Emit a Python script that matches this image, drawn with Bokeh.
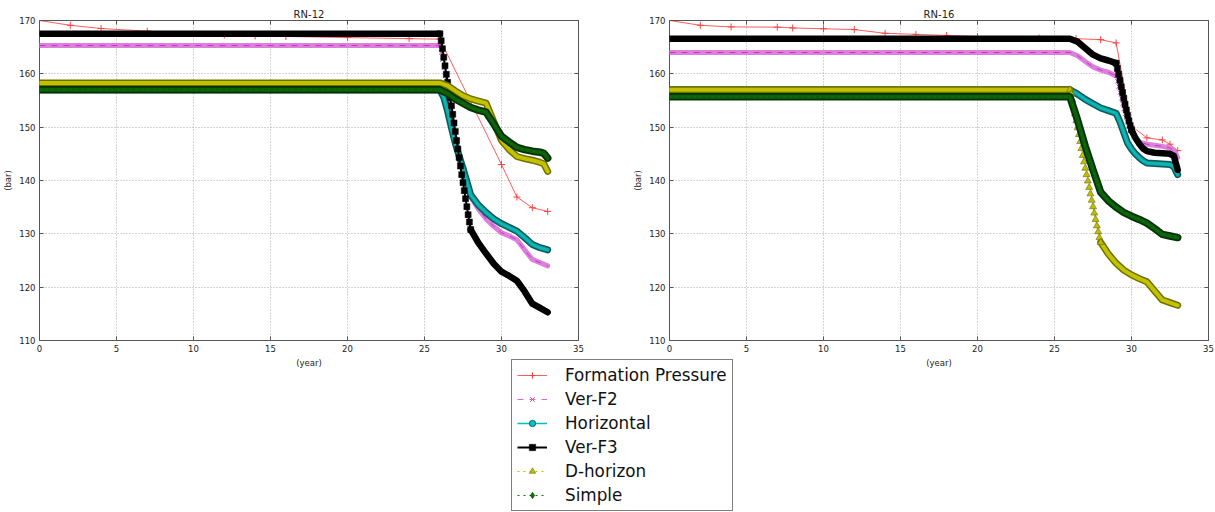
import numpy as np
from bokeh.plotting import figure
from bokeh.models import FixedTicker, Legend, LegendItem, LinearAxis
from bokeh.layouts import row, column
from bokeh.embed import file_html
from bokeh.resources import INLINE

# ---------------- data ----------------
SERIES = ["Formation Pressure", "Ver-F2", "Horizontal", "Ver-F3", "D-horizon", "Simple"]
TITLES = ["RN-12", "RN-16"]
X_TICKS = [0, 5, 10, 15, 20, 25, 30, 35]
Y_TICKS = [110, 120, 130, 140, 150, 160, 170]
X_LABEL = "(year)"
Y_LABEL = "(bar)"


def months(start, n):
    """monthly time stamps after `start` (time grid only)"""
    return [start + k / 12.0 for k in range(1, n + 1)]


HALF = [28.5, 29.0, 29.5, 30.0, 30.5, 31.0, 31.5, 32.0, 32.5, 33.0]

# ---- RN-12 ----
rn12_fp_t = [0, 2, 4, 7, 12, 14, 16, 20, 24, 26, 30, 31, 32, 33]
rn12_fp_v = [170.0, 169.1, 168.5, 168.0, 167.3, 167.1, 167.0, 166.8, 166.6, 166.5, 143.0, 136.9, 134.9, 134.2]

rn12_f2_t = [0, 26] + months(26, 11) + [27.0, 27.5, 28.0, 28.5, 29, 29.5, 30, 30.5, 31, 31.5, 32, 32.5, 33]
rn12_f2_v = [165.3, 165.3,
             164.0, 162.6, 161.1, 159.6, 158.0, 156.4, 154.8, 153.2, 151.6, 150.1, 148.5,
             147.0, 142.4, 137.0, 134.6, 132.8, 131.4, 130.2, 129.6, 128.9, 127.0, 125.2, 124.6, 124.0]

rn12_hz_t = [0, 26, 26.25, 26.5, 26.75, 27, 27.25, 27.5, 27.75, 28, 28.5, 29, 29.5, 30, 30.5, 31, 31.5, 32, 32.5, 33]
rn12_hz_v = [157.0, 157.0, 155.6, 153.0, 149.9, 147.0, 144.6, 142.3, 139.8, 137.3,
             135.4, 134.0, 132.8, 131.9, 131.2, 130.5, 129.3, 128.0, 127.4, 127.0]

rn12_f3_t = [0, 26] + months(26, 24) + HALF
rn12_f3_v = [167.5, 167.5,
             166.2, 164.7, 163.1, 161.5, 159.9, 158.4, 156.9, 155.5, 154.0, 152.4, 150.8, 149.2,
             147.5, 145.9, 144.3, 142.7, 141.1, 139.6, 138.1, 136.6, 135.1, 133.6, 132.2, 130.8,
             128.3, 126.3, 124.4, 122.9, 122.1, 121.2, 119.2, 116.9, 116.1, 115.3]

rn12_dh_t = [0, 26, 26.5, 27, 27.5, 28, 28.5, 29, 29.5, 30, 30.5, 31, 31.5, 32, 32.5, 32.75, 33]
rn12_dh_v = [158.3, 158.3, 157.8, 156.8, 155.9, 155.3, 154.9, 154.5, 151.0, 147.5, 145.8, 144.5, 144.1, 143.8, 143.4, 143.1, 141.7]

rn12_sp_t = [0, 26, 26.5, 27, 27.5, 28, 28.5, 29, 29.5, 30, 30.5, 31, 31.5, 32, 32.5, 32.75, 33]
rn12_sp_v = [157.0, 157.0, 156.3, 155.3, 154.5, 153.7, 153.2, 152.8, 150.6, 148.3, 147.2, 146.2, 145.8, 145.5, 145.3, 145.1, 144.2]

# ---- RN-16 ----
rn16_fp_t = [0, 2, 4, 7, 8, 10, 12, 14, 16, 18, 20, 24, 26.4, 28, 29, 30, 31, 32, 32.5, 33]
rn16_fp_v = [170.0, 169.1, 168.8, 168.75, 168.6, 168.45, 168.3, 167.6, 167.4, 167.2, 167.0, 166.7, 166.6, 166.4,
             165.8, 150.2, 148.0, 147.6, 146.8, 145.6]

rn16_f2_t = [0, 26, 26.5, 27, 27.5, 28, 28.5, 29] + months(29, 12) + [30.25, 30.5, 31, 31.5, 32, 32.5, 32.75, 33]
rn16_f2_v = [164.0, 164.0, 163.4, 162.3, 161.3, 160.7, 160.3, 159.6,
             158.6, 157.6, 156.5, 155.4, 154.4, 153.4, 152.5, 151.7, 150.9, 150.2, 149.6, 149.1,
             148.0, 147.2, 146.8, 146.6, 146.4, 146.1, 145.6, 144.3]

rn16_hz_t = [0, 26, 26.5, 27, 27.5, 28, 28.5, 29, 29.25, 29.5, 29.75, 30, 30.25, 30.5, 30.75, 31, 31.5, 32, 32.5, 32.75, 33]
rn16_hz_v = [157.0, 157.0, 156.2, 155.2, 154.4, 153.6, 153.1, 152.6, 151.0, 149.0, 147.0, 145.9, 145.0, 144.3,
             143.7, 143.3, 143.2, 143.1, 143.0, 142.6, 141.1]

rn16_f3_t = [0, 26, 26.5, 27, 27.5, 28, 28.5, 29] + months(29, 12) + [30.25, 30.5, 30.75, 31, 31.5, 32, 32.5, 32.75, 33]
rn16_f3_v = [166.6, 166.6, 166.0, 164.8, 163.6, 162.9, 162.5, 162.0,
             161.0, 159.9, 158.8, 157.6, 156.5, 155.4, 154.3, 153.2, 152.2, 151.2, 150.3, 149.5,
             148.0, 146.9, 146.0, 145.5, 145.2, 145.1, 145.0, 144.6, 142.0]

rn16_dh_t = [0, 26] + months(26, 24) + HALF
rn16_dh_v = [157.0, 157.0,
             156.2, 155.1, 153.8, 152.5, 151.2, 149.9, 148.6, 147.3, 146.0, 144.7, 143.5, 142.3,
             141.1, 139.9, 138.7, 137.5, 136.3, 135.1, 133.9, 132.7, 131.5, 130.4, 129.3, 128.4,
             126.2, 124.5, 123.2, 122.3, 121.6, 121.0, 119.3, 117.6, 117.1, 116.6]

rn16_sp_t = [0, 26, 26.5, 27, 27.5, 28, 28.5, 29, 29.5, 30, 30.5, 31, 31.5, 32, 32.5, 33]
rn16_sp_v = [155.7, 155.7, 151.3, 146.4, 142.0, 137.8, 136.2, 135.0, 134.0, 133.3, 132.7, 132.0, 131.0, 129.9, 129.6, 129.3]

RN12 = [(rn12_fp_t, rn12_fp_v, None), (rn12_f2_t, rn12_f2_v, (26, 27)), (rn12_hz_t, rn12_hz_v, None),
        (rn12_f3_t, rn12_f3_v, (26, 28)), (rn12_dh_t, rn12_dh_v, None), (rn12_sp_t, rn12_sp_v, None)]
RN16 = [(rn16_fp_t, rn16_fp_v, None), (rn16_f2_t, rn16_f2_v, (29, 30)), (rn16_hz_t, rn16_hz_v, None),
        (rn16_f3_t, rn16_f3_v, (29, 30)), (rn16_dh_t, rn16_dh_v, (26, 28)), (rn16_sp_t, rn16_sp_v, None)]

# ---------------- styles ----------------
STYLES = [
    dict(line="#ff4040", alpha=0.85, lw=1, dash="solid", marker="cross", msize=7, fill="#ff4040",
         mline="#ff4040", mlw=1, band=[], all_markers=True),
    dict(line="#bf00bf", alpha=0.6, lw=1, dash="dashed", marker="x", msize=6, fill="#bf00bf",
         mline="#cc44cc", mlw=1, band=[("#dc80dc", 5)], all_markers=False),
    dict(line="#00bfbf", alpha=1.0, lw=1.5, dash="solid", marker="circle", msize=6, fill="#00bfbf",
         mline="#000000", mlw=0.5, band=[("#0b5a5a", 7), ("#17a3a3", 4)], all_markers=False),
    dict(line="#000000", alpha=1.0, lw=2, dash="solid", marker="square", msize=6, fill="#000000",
         mline="#000000", mlw=0.5, band=[("#000000", 6.5)], all_markers=False),
    dict(line="#bfbf00", alpha=1.0, lw=1, dash="dotted", marker="triangle", msize=7, fill="#bfbf00",
         mline="#555500", mlw=0.5, band=[("#707000", 7), ("#c2c200", 4)], all_markers=False),
    dict(line="#008000", alpha=1.0, lw=1, dash="dotted", marker="diamond", msize=8, fill="#008000",
         mline="#000000", mlw=0.5, band=[("#053205", 7.5), ("#0e5e0e", 4)], all_markers=False),
]

FONT = "DejaVu Sans"


def add_series(p, t, v, st, steep):
    t = [float(a) for a in t]
    v = [float(a) for a in v]
    n = len(t)

    def in_steep(x):
        return steep is not None and steep[0] - 1e-9 <= x <= steep[1] + 1e-9

    seg_steep = [in_steep(t[i]) and in_steep(t[i + 1]) for i in range(n - 1)]
    runs, cur = [], None
    for i, s in enumerate(seg_steep):
        if s:
            cur = None
            continue
        if cur is None:
            cur = [i]
            runs.append(cur)
        cur.append(i + 1)
    if st["band"] and runs:
        xs = [[t[j] for j in r] for r in runs]
        ys = [[v[j] for j in r] for r in runs]
        for col, w in st["band"]:
            p.multi_line(xs=xs, ys=ys, line_color=col, line_width=w, line_cap="round", line_join="round")
    p.line(t, v, line_color=st["line"], line_width=st["lw"], line_dash=st["dash"], line_alpha=st["alpha"])
    idx = [j for j in range(n) if st["all_markers"] or in_steep(t[j])]
    if idx:
        p.scatter([t[j] for j in idx], [v[j] for j in idx], marker=st["marker"], size=st["msize"],
                  fill_color=st["fill"], line_color=st["mline"], line_width=st["mlw"])


def tick_only_axis(ticks):
    ax = LinearAxis(ticker=FixedTicker(ticks=ticks), axis_line_color=None, major_tick_in=4, major_tick_out=0,
                    major_tick_line_color="#555555", minor_tick_line_color=None, major_label_standoff=0,
                    major_label_text_font_size="1px", major_label_overrides={t: "" for t in ticks})
    return ax


def make_fig(title, width, mbl, mbr, data):
    p = figure(width=width, height=370, x_range=(0, 35), y_range=(110, 170), output_backend="svg",
               toolbar_location=None, tools="", min_border_left=mbl, min_border_right=mbr,
               min_border_top=20, min_border_bottom=28, title=title)
    p.title.align = "center"
    p.title.text_font = FONT
    p.title.text_font_size = "10px"
    p.title.text_font_style = "normal"
    p.title.text_color = "#222222"
    p.title.standoff = 2
    p.outline_line_color = "#555555"
    p.outline_line_width = 1
    p.background_fill_color = "white"
    p.border_fill_color = "white"
    p.xaxis.ticker = FixedTicker(ticks=X_TICKS)
    p.yaxis.ticker = FixedTicker(ticks=Y_TICKS)
    for ax in (p.xaxis, p.yaxis):
        ax.axis_line_color = None
        ax.major_tick_in = 4
        ax.major_tick_out = 0
        ax.major_tick_line_color = "#555555"
        ax.minor_tick_line_color = None
        ax.major_label_text_font = FONT
        ax.major_label_text_font_size = "8.5px"
        ax.major_label_text_color = "#222222"
        ax.major_label_standoff = 4
        ax.axis_label_text_font = FONT
        ax.axis_label_text_font_size = "8.5px"
        ax.axis_label_text_font_style = "normal"
        ax.axis_label_text_color = "#222222"
    p.xaxis.axis_label = X_LABEL
    p.yaxis.axis_label = Y_LABEL
    p.xaxis.axis_label_standoff = 3
    p.yaxis.axis_label_standoff = 3
    p.add_layout(tick_only_axis(X_TICKS), "above")
    p.add_layout(tick_only_axis(Y_TICKS), "right")
    p.grid.grid_line_color = "#aaaaaa"
    p.grid.grid_line_dash = "1 2"
    p.grid.grid_line_width = 1
    for (t, v, steep), st in zip(data, STYLES):
        add_series(p, t, v, st, steep)
    return p


p1 = make_fig(TITLES[0], 608, 39, 30, RN12)
p2 = make_fig(TITLES[1], 607, 61, 7, RN16)

# ---------------- legend ----------------
leg = figure(width=226, height=152, x_range=(0, 1), y_range=(0, 1), x_axis_type=None, y_axis_type=None,
             toolbar_location=None, tools="", output_backend="svg", min_border=0)
leg.outline_line_color = None
leg.grid.visible = False
items = []
for name, st in zip(SERIES, STYLES):
    # off-screen placeholder point so that the legend glyphs are drawn
    lr = leg.line(x=[-10, -9], y=[-10, -10], line_color=st["line"], line_width=st["lw"], line_dash=st["dash"],
                  line_alpha=st["alpha"])
    sr = leg.scatter(x=[-10], y=[-10], marker=st["marker"], fill_color=st["fill"], line_color=st["mline"],
                     line_width=1 if st["marker"] in ("cross", "x") else st["mlw"])
    items.append(LegendItem(label=name, renderers=[lr, sr]))
legend = Legend(items=items, location="top_left", margin=0, padding=5, spacing=4, glyph_width=30,
                glyph_height=16, label_height=16, label_standoff=18, label_text_font=FONT,
                label_text_font_size="16.8px", label_text_color="#111111",
                border_line_color="#000000", border_line_width=1, background_fill_color="white",
                background_fill_alpha=1.0)
leg.add_layout(legend)
leg.margin = (-11, 0, 0, 511)

layout = column(row(p1, p2), leg)

open("out.html", "w").write(file_html(layout, INLINE))
